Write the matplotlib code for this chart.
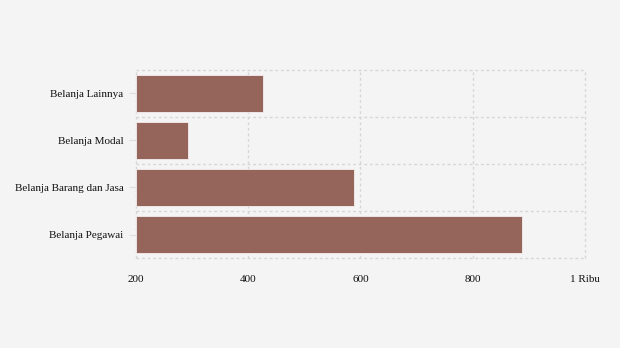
import numpy as np
import matplotlib.pyplot as plt
import matplotlib as mpl

mpl.rcParams.update({
    'font.family': ['Liberation Serif', 'DejaVu Serif'],
    'font.size': 8,
})

# data
kategori = ['Belanja Lainnya', 'Belanja Modal', 'Belanja Barang dan Jasa', 'Belanja Pegawai']
nilai = [427, 293, 589, 887]
xticks = [200, 400, 600, 800, 1000]
xlabels = ['200', '400', '600', '800', '1 Ribu']

bg = '#f4f4f4'
fig = plt.figure(figsize=(6.2, 3.48), dpi=100, facecolor=bg)
ax = fig.add_axes([0.2194, 0.2586, 0.7241, 0.5403], facecolor=bg)

pos = np.arange(len(kategori))
ax.barh(pos, [v - 200 for v in nilai], left=200, height=0.8,
        color='#95655c', edgecolor='#f4eeee', linewidth=0.6, zorder=3)

ax.set_xlim(200, 1000)
ax.set_ylim(len(kategori) - 0.5, -0.5)
ax.set_xticks(xticks)
ax.set_xticklabels(xlabels)
ax.set_yticks(pos)
ax.set_yticklabels(kategori)
ax.set_yticks(np.arange(-0.5, len(kategori)), minor=True)

ax.grid(True, axis='x', which='major', color='#d6d6d6', linestyle=(0, (2, 2)), linewidth=1.0, zorder=0)
ax.grid(True, axis='y', which='minor', color='#d6d6d6', linestyle=(0, (2, 2)), linewidth=1.0, zorder=0)
# garis tepi tidak terpotong
for t in ax.xaxis.get_major_ticks() + ax.yaxis.get_minor_ticks():
    t.gridline.set_clip_on(False)
ax.tick_params(axis='x', length=0, pad=12)
ax.tick_params(axis='y', which='major', length=5, color='#dddddd', pad=4)
ax.tick_params(axis='y', which='minor', length=0)
for lbl in ax.get_xticklabels() + ax.get_yticklabels():
    lbl.set_color('#111111')
for s in ax.spines.values():
    s.set_visible(False)

fig.savefig('out.png', dpi=100, facecolor=bg)
